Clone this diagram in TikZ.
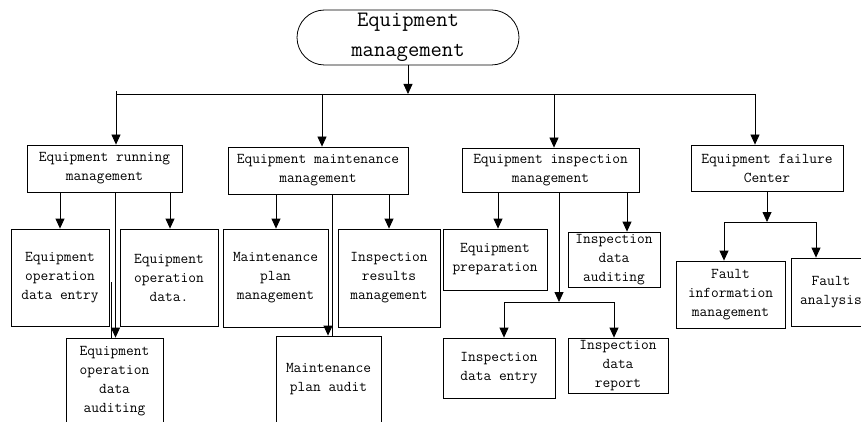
\documentclass[tikz,border=0pt]{standalone}
\usepackage{fontspec}
\usetikzlibrary{arrows.meta}
\begin{document}
\begin{tikzpicture}[x=1pt,y=-1pt,
  every node/.style={font=\ttfamily\fontsize{15}{19}\selectfont},
  box/.style={draw, line width=0.8pt, align=center, inner sep=0pt},
  conn/.style={line width=0.8pt},
  arr/.style={conn, -{Triangle[length=10pt,width=9pt]}}]
\useasboundingbox (0,0) rectangle (861,422);
\clip (0,0) rectangle (861,422);

% root
\node[box, rounded corners=27.5pt, minimum width=222pt, minimum height=55pt,
      font=\ttfamily\fontsize{22}{30}\selectfont] (root) at (408,37.5) {Equipment\\management};

% level 1
\node[box, minimum width=155pt, minimum height=47pt] (run) at (104.5,168.5) {Equipment running\\management};
\node[box, minimum width=180pt, minimum height=47pt] (mnt) at (318,170.5) {Equipment maintenance\\management};
\node[box, minimum width=177pt, minimum height=44pt] (ins) at (550.5,170) {Equipment inspection\\management};
\node[box, minimum width=152pt, minimum height=46pt] (fail) at (767,168) {Equipment failure\\Center};

% column 1 children
\node[box, minimum width=98pt, minimum height=97pt] (A) at (60,277.5) {Equipment\\operation\\data entry};
\node[box, minimum width=98pt, minimum height=97pt] (B) at (169,277.5) {Equipment\\operation\\data.};
\node[box, minimum width=97pt, minimum height=87pt] (C) at (114.5,381.5) {Equipment\\operation\\data\\auditing};

% column 2 children
\node[box, minimum width=105pt, minimum height=98pt] (D) at (275.5,278) {Maintenance\\plan\\management};
\node[box, minimum width=102pt, minimum height=98pt] (E) at (389,278) {Inspection\\results\\management};
\node[box, minimum width=105pt, minimum height=86pt] (F) at (328.5,379) {Maintenance\\plan audit};

% column 3 children
\node[box, minimum width=104pt, minimum height=61pt] (G) at (495,259.5) {Equipment\\preparation};
\node[box, minimum width=92pt, minimum height=55pt] (H) at (614,259.5) {Inspection\\data\\auditing};
\node[box, minimum width=112pt, minimum height=60pt] (I) at (499,368) {Inspection\\data entry};
\node[box, minimum width=100pt, minimum height=55pt] (J) at (618,365.5) {Inspection\\data\\report};

% column 4 children
\node[box, minimum width=109pt, minimum height=67pt] (K) at (730.5,294.5) {Fault\\information\\management};
\node[box, minimum width=80pt, minimum height=68pt] (L) at (831,292) {Fault\\analysis};

% bus from root
\coordinate (bus) at (408,94);
\coordinate (busL) at (116,94);
\coordinate (busLt) at (116,91);
\coordinate (busR) at (755,94);
\coordinate (bus2) at (322,94);
\coordinate (bus3) at (554,94);
\draw[arr] (root.south) -- (bus);
\draw[conn] (busL) -- (busR);
\draw[arr] (busLt) -- (busLt |- run.north);
\draw[arr] (bus2) -- (bus2 |- mnt.north);
\draw[arr] (bus3) -- (bus3 |- ins.north);
\draw[arr] (busR) -- (busR |- fail.north);

% column 1 connectors
\draw[arr] (A.north |- run.south) -- (A.north);
\coordinate (xb) at (170,0);
\draw[arr] (xb |- run.south) -- (xb |- B.north);
\coordinate (xc) at (115.5,0);
\draw[arr] (xc |- run.south) -- (xc |- C.north);
\coordinate (xc2) at (111.5,282);
\draw[conn] (xc2) -- (xc2 |- C.north);

% column 2 connectors
\coordinate (xd) at (276,0);
\draw[arr] (xd |- mnt.south) -- (xd |- D.north);
\draw[arr] (E.north |- mnt.south) -- (E.north);
\coordinate (xf) at (332,0);
\draw[conn] (xf |- mnt.south) -- (xf |- F.north);
\coordinate (xf2) at (328,282);
\draw[arr] (xf2) -- (xf2 |- F.north);

% column 3 connectors
\coordinate (xg) at (498,0);
\draw[arr] (xg |- ins.south) -- (xg |- G.north);
\coordinate (xh) at (627,0);
\draw[arr] (xh |- ins.south) -- (xh |- H.north);
\coordinate (j3) at (559,302);
\coordinate (j3L) at (504,302);
\coordinate (j3R) at (614,302);
\draw[arr] (j3 |- ins.south) -- (j3);
\draw[conn] (j3L) -- (j3R);
\draw[arr] (j3L) -- (j3L |- I.north);
\draw[arr] (j3R) -- (j3R |- J.north);

% column 4 connectors
\coordinate (j4) at (767,222);
\coordinate (j4L) at (724,222);
\coordinate (j4R) at (816,222);
\draw[arr] (fail.south) -- (j4);
\draw[conn] (j4L) -- (j4R);
\draw[arr] (j4L) -- (j4L |- K.north);
\draw[arr] (j4R) -- (j4R |- L.north);
\end{tikzpicture}
\end{document}
